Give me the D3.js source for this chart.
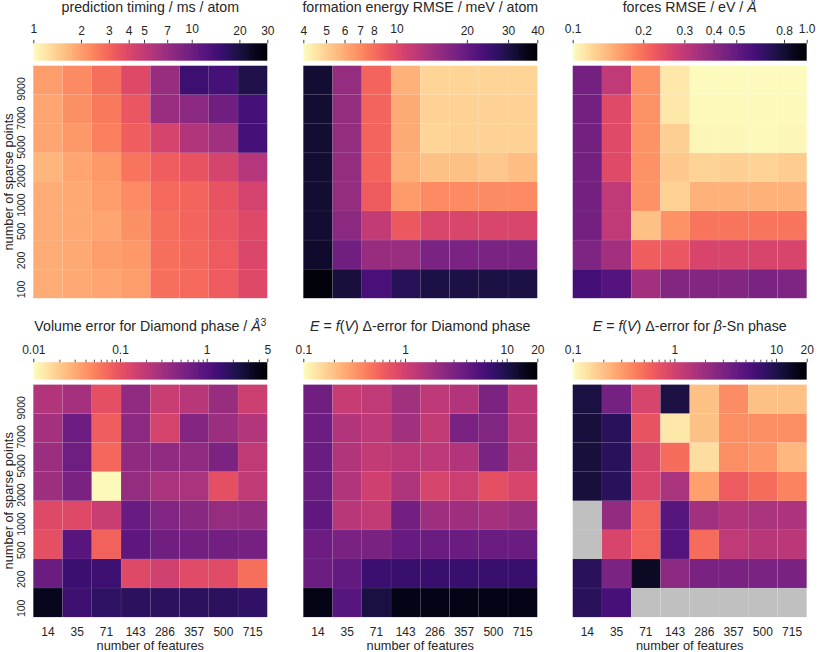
<!DOCTYPE html>
<html><head><meta charset="utf-8">
<script src="https://cdn.jsdelivr.net/npm/d3@7"></script>
<style>
body{margin:0;background:#fff}
text{font-family:"Liberation Sans",Arial,Helvetica,sans-serif;fill:#262626}
</style>
</head><body>
<svg id="chart" width="830" height="652"></svg>
<script>
// ---------------- data ----------------
const features = [14, 35, 71, 143, 286, 357, 500, 715];
const sparsePoints = [9000, 7000, 5000, 2000, 1000, 500, 200, 100]; // top to bottom

const timing = [
  [2.0, 2.3, 2.8, 3.9, 7.0, 15, 14, 19],
  [1.9, 2.2, 2.6, 3.4, 6.9, 7.7, 9.8, 14],
  [1.9, 2.1, 2.5, 3.2, 4.2, 5.7, 6.5, 14],
  [1.7, 1.9, 2.1, 2.7, 3.2, 3.5, 4.2, 5.5],
  [1.8, 1.85, 2.0, 2.3, 2.9, 3.0, 3.5, 4.3],
  [1.8, 1.85, 1.9, 2.2, 2.8, 3.0, 3.4, 3.9],
  [1.8, 1.85, 2.0, 2.1, 2.8, 2.95, 3.3, 4.0],
  [1.8, 1.85, 1.9, 2.0, 2.8, 2.9, 3.3, 3.9]
];
const formationRMSE = [
  [32, 15.2, 8.5, 5.8, 4.9, 4.9, 4.9, 4.9],
  [32, 15.2, 8.5, 6.0, 5.0, 5.0, 5.0, 5.0],
  [32, 15.2, 8.5, 6.0, 4.9, 5.0, 5.0, 5.0],
  [32, 15.2, 8.5, 5.9, 5.4, 5.4, 5.2, 5.5],
  [32, 15.2, 8.9, 6.5, 7.0, 7.0, 7.0, 7.0],
  [32, 16.0, 11.8, 9.0, 10.3, 10.3, 10.3, 10.3],
  [33, 18.7, 14.9, 14.8, 17.5, 17.5, 17.5, 17.5],
  [38, 31, 23.5, 28, 30, 30, 30, 30]
];
const forcesRMSE = [
  [0.46, 0.30, 0.17, 0.112, 0.101, 0.101, 0.101, 0.101],
  [0.46, 0.25, 0.17, 0.112, 0.102, 0.102, 0.102, 0.102],
  [0.46, 0.25, 0.17, 0.126, 0.103, 0.103, 0.102, 0.103],
  [0.46, 0.25, 0.17, 0.130, 0.123, 0.126, 0.124, 0.128],
  [0.46, 0.30, 0.17, 0.125, 0.145, 0.145, 0.145, 0.145],
  [0.46, 0.30, 0.135, 0.17, 0.195, 0.195, 0.195, 0.195],
  [0.43, 0.35, 0.22, 0.23, 0.26, 0.26, 0.26, 0.26],
  [0.60, 0.55, 0.35, 0.42, 0.42, 0.42, 0.44, 0.43]
];
const volumeError = [
  [0.24, 0.29, 0.106, 0.39, 0.17, 0.22, 0.35, 0.16],
  [0.29, 0.68, 0.083, 0.42, 0.14, 0.47, 0.33, 0.23],
  [0.33, 0.66, 0.073, 0.40, 0.39, 0.39, 0.53, 0.19],
  [0.32, 0.55, 0.0106, 0.37, 0.27, 0.27, 0.106, 0.19],
  [0.12, 0.12, 0.17, 0.73, 0.50, 0.44, 0.36, 0.38],
  [0.106, 0.93, 0.078, 0.85, 0.64, 0.63, 0.62, 0.58],
  [0.70, 1.44, 1.40, 0.12, 0.15, 0.115, 0.115, 0.065],
  [3.6, 1.4, 1.7, 1.8, 1.8, 1.8, 1.8, 1.65]
];
const eDiamond = [
  [3.5, 1.14, 1.27, 1.84, 1.3, 1.49, 2.97, 1.35],
  [3.6, 1.5, 1.3, 1.85, 1.2, 3.1, 2.8, 1.4],
  [3.8, 1.5, 1.2, 1.35, 1.3, 1.5, 3.0, 1.45],
  [3.7, 1.5, 1.03, 1.55, 0.93, 1.1, 0.75, 0.9],
  [4.3, 1.4, 1.2, 3.4, 1.9, 1.9, 1.75, 2.0],
  [3.6, 3.1, 3.1, 3.9, 3.8, 3.8, 3.8, 3.8],
  [3.7, 4.2, 6.9, 7.0, 7.0, 7.0, 7.0, 7.0],
  [16, 4.8, 10.6, 16, 16, 16, 16, 16]
];
const eBetaSn = [
  [10.6, 3.3, 0.93, 10.5, 0.20, 0.36, 0.20, 0.20],
  [11, 8.5, 0.70, 0.13, 0.20, 0.35, 0.35, 0.35],
  [11, 8.5, 0.93, 0.52, 0.145, 0.35, 0.32, 0.22],
  [11, 8.4, 0.90, 1.66, 0.29, 0.64, 0.52, 0.40],
  [null, 2.2, 0.57, 4.8, 1.85, 1.5, 1.65, 1.6],
  [null, 0.9, 0.57, 5.0, 0.52, 1.27, 1.4, 1.33],
  [8.5, 3.0, 13.8, 2.4, 3.1, 3.1, 3.0, 3.1],
  [8.5, 5.9, null, null, null, null, null, null]
];

// colour-bar ranges and ticks
const timingDomain = [1, 30];
const timingTicks = [1, 2, 3, 4, 5, 7, 10, 20, 30];
const formationDomain = [4, 40];
const formationTicks = [4, 5, 6, 7, 8, 10, 20, 30, 40];
const forcesDomain = [0.1, 1.0];
const forcesTicks = [0.1, 0.2, 0.3, 0.4, 0.5, 0.8, 1.0];
const forcesTickLabels = ["0.1", "0.2", "0.3", "0.4", "0.5", "0.8", "1.0"];
const volumeDomain = [0.01, 5];
const volumeTicks = [0.01, 0.1, 1, 5];
const volumeTickLabels = ["0.01", "0.1", "1", "5"];
const volumeMinor = [0.02,0.03,0.04,0.05,0.06,0.07,0.08,0.09,0.2,0.3,0.4,0.5,0.6,0.7,0.8,0.9,2,3,4];
const eDomain = [0.1, 20];
const eTicks = [0.1, 1, 10, 20];
const eTickLabels = ["0.1", "1", "10", "20"];
const eMinor = [0.2,0.3,0.4,0.5,0.6,0.7,0.8,0.9,2,3,4,5,6,7,8,9];

// ---------------- layout ----------------
const svg = d3.select("#chart");
const colX = [33.3, 303.3, 572.7];
const cellW = 234;
const rowY = [65.7, 384.6];      // heatmap top
const mapH = 232.5;
const cbOffset = 22.4;          // colour bar top above heatmap top
const cbH = 17.4;

const panels = [
  {row:0, col:0, title:[["prediction timing / ms / atom"]], values:timing, domain:timingDomain, ticks:timingTicks, labels:timingTicks.map(String), minor:[]},
  {row:0, col:1, title:[["formation energy RMSE / meV / atom"]], values:formationRMSE, domain:formationDomain, ticks:formationTicks, labels:formationTicks.map(String), minor:[]},
  {row:0, col:2, title:[["forces RMSE / eV / "],["Å","i"]], values:forcesRMSE, domain:forcesDomain, ticks:forcesTicks, labels:forcesTickLabels, minor:[]},
  {row:1, col:0, title:[["Volume error for Diamond phase / "],["Å","i"],["3","sup"]], values:volumeError, domain:volumeDomain, ticks:volumeTicks, labels:volumeTickLabels, minor:volumeMinor},
  {row:1, col:1, title:[["E","i"],[" = "],["f","i"],["("],["V","i"],[") Δ-error for Diamond phase"]], values:eDiamond, domain:eDomain, ticks:eTicks, labels:eTickLabels, minor:eMinor},
  {row:1, col:2, title:[["E","i"],[" = "],["f","i"],["("],["V","i"],[") Δ-error for "],["β","i"],["-Sn phase"]], values:eBetaSn, domain:eDomain, ticks:eTicks, labels:eTickLabels, minor:eMinor}
];

const defs = svg.append("defs");
const grad = defs.append("linearGradient").attr("id","magmaR").attr("x1","0%").attr("x2","100%").attr("y1","0%").attr("y2","0%");
d3.range(0, 101).forEach(i => {
  grad.append("stop").attr("offset", i + "%").attr("stop-color", d3.interpolateMagma(1 - i/100));
});

panels.forEach((p, pi) => {
  const x0 = colX[p.col], y0 = rowY[p.row];
  const g = svg.append("g");
  const x = d3.scaleBand().domain(features).range([x0, x0 + cellW]);
  const y = d3.scaleBand().domain(sparsePoints).range([y0, y0 + mapH]);
  const pos = d3.scaleLog().domain(p.domain).range([0, 1]).clamp(true);
  const color = v => (v == null) ? "#c0c0c0" : d3.interpolateMagma(1 - pos(v));

  // cells
  const cells = [];
  p.values.forEach((row, ri) => row.forEach((v, ci) => cells.push({s: sparsePoints[ri], f: features[ci], v})));
  g.selectAll("rect.cell").data(cells).join("rect")
    .attr("class","cell")
    .attr("x", d => x(d.f)).attr("y", d => y(d.s))
    .attr("width", x.bandwidth()).attr("height", y.bandwidth())
    .attr("fill", d => color(d.v))
    .attr("stroke", "#ffffff").attr("stroke-opacity", 0.07).attr("stroke-width", 0.6);

  // colour bar
  const cbY = y0 - cbOffset;
  g.append("rect").attr("x", x0).attr("y", cbY).attr("width", cellW).attr("height", cbH).attr("fill", "url(#magmaR)");
  const cbScale = d3.scaleLog().domain(p.domain).range([x0, x0 + cellW]);
  const ax = g.append("g").attr("transform", `translate(0,${cbY})`)
    .call(d3.axisTop(cbScale).tickValues(p.ticks).tickFormat((d, i) => p.labels[i]).tickSize(3.5).tickPadding(4.5));
  ax.select(".domain").remove();
  ax.selectAll(".tick line").attr("stroke", "#262626").attr("stroke-width", 0.9);
  ax.selectAll(".tick text").attr("font-size", 12).attr("fill", "#262626")
    .attr("font-family", '"Liberation Sans",Arial,sans-serif')
    .attr("dy", d => (p.row === 0 && Math.abs(Math.log10(d) - Math.round(Math.log10(d))) < 1e-9) ? "-0.2em" : "0");
  if (p.minor.length) {
    const mx = g.append("g").attr("transform", `translate(0,${cbY})`)
      .call(d3.axisTop(cbScale).tickValues(p.minor).tickFormat("").tickSize(2.5));
    mx.select(".domain").remove();
    mx.selectAll(".tick line").attr("stroke", "#262626").attr("stroke-width", 0.8);
  }

  // title
  const t = g.append("text").attr("x", x0 + cellW/2).attr("y", y0 - 53.5)
    .attr("text-anchor","middle").attr("font-size", 14.2);
  p.title.forEach(([s, st]) => {
    const ts = t.append("tspan").text(s);
    if (st === "i") ts.attr("font-style","italic");
    if (st === "sup") ts.attr("font-size", 10).attr("dy", "-0.5em");
  });

  // y axis (left column)
  if (p.col === 0) {
    g.selectAll("text.ytick").data(sparsePoints).join("text")
      .attr("class","ytick")
      .attr("transform", d => `translate(${x0 - 8.5},${y(d) + y.bandwidth()/2 - 3}) rotate(-90)`)
      .attr("text-anchor","end").attr("font-size", 10.5).text(d => d);
    g.append("text")
      .attr("transform", `translate(13,${y0 + mapH/2}) rotate(-90)`)
      .attr("text-anchor","middle").attr("font-size", 12.8).text("number of sparse points");
  }
  // x axis (bottom row)
  if (p.row === 1) {
    g.selectAll("text.xtick").data(features).join("text")
      .attr("class","xtick")
      .attr("x", d => x(d) + x.bandwidth()/2).attr("y", y0 + mapH + 18.5)
      .attr("text-anchor","middle").attr("font-size", 12).text(d => d);
    g.append("text").attr("x", x0 + cellW/2).attr("y", y0 + mapH + 32.5)
      .attr("text-anchor","middle").attr("font-size", 12.8).text("number of features");
  }
});
</script>
</body></html>
